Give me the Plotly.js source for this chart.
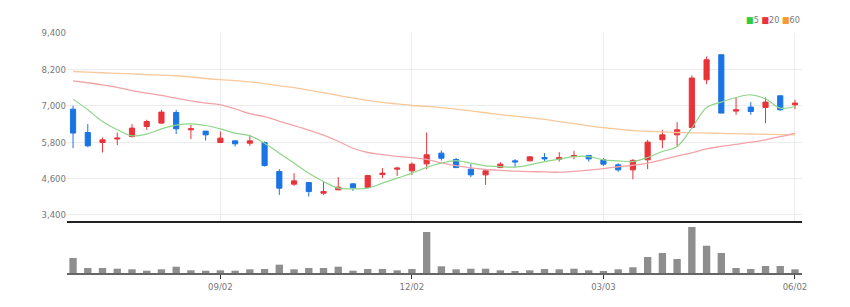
<!DOCTYPE html>
<html><head><meta charset="utf-8">
<script src="https://cdn.plot.ly/plotly-3.0.1.min.js"></script>
<style>html,body{margin:0;padding:0;background:#fff}#chart{width:850px;height:307px}</style>
</head><body><div id="chart"></div>
<script>
const dates = ['2024-06-24','2024-07-01','2024-07-08','2024-07-15','2024-07-22','2024-07-29','2024-08-05','2024-08-12','2024-08-19','2024-08-26',
'2024-09-02','2024-09-09','2024-09-16','2024-09-23','2024-09-30','2024-10-07','2024-10-14','2024-10-21','2024-10-28','2024-11-04',
'2024-11-11','2024-11-18','2024-11-25','2024-12-02','2024-12-09','2024-12-16','2024-12-23','2024-12-30','2025-01-06','2025-01-13',
'2025-01-20','2025-01-27','2025-02-03','2025-02-10','2025-02-17','2025-02-24','2025-03-03','2025-03-10','2025-03-17','2025-03-24',
'2025-03-31','2025-04-07','2025-04-14','2025-04-21','2025-04-28','2025-05-05','2025-05-12','2025-05-19','2025-05-26','2025-06-02'];
const open  = [6890,6119,5789,5904,5987,6317,6429,6779,6208,6165,5789,5845,5768,5789,4832,4416,4470,4119,4228,4426,4305,4733,4911,4855,5086,5439,5228,4911,4723,4964,5185,5185,5294,5240,5327,5360,5218,5053,4888,5218,5878,6043,6284,7858,8683,6825,6957,6945,7330,7033];
const high  = [7000,6396,5954,6119,6396,6538,6868,6868,6373,6165,6152,5845,6043,5822,4911,4779,4470,4525,4647,4449,4723,4944,4988,5131,6119,5528,5282,5076,4888,5142,5241,5339,5439,5472,5515,5383,5274,5109,5240,5878,6208,6462,8000,8627,8683,7287,7122,7274,7340,7198];
const low   = [5604,5637,5459,5703,5954,6208,6406,6066,5901,5855,5789,5657,5680,4997,4063,4360,4007,4063,4228,4196,4305,4614,4690,4723,4911,5195,4944,4647,4393,4944,4977,5175,5185,5160,5240,5160,5020,4823,4578,4911,5604,5657,6263,7716,6759,6703,6703,6429,6845,6890];
const close = [6100,5680,5878,5934,6264,6482,6792,6241,6241,6043,5934,5746,5845,5030,4284,4525,4172,4172,4317,4294,4700,4779,4944,5076,5383,5271,4964,4723,4855,5076,5152,5317,5250,5294,5360,5250,5076,4888,5200,5802,6043,6208,7914,8518,6759,6868,6812,7122,6868,7089];
const ma5  = [7220,6868,6482,6208,6010,6066,6241,6360,6406,6350,6241,6099,6010,5768,5439,5109,4779,4502,4284,4261,4284,4449,4614,4779,4970,5109,5195,5109,5020,4997,4977,5053,5160,5240,5327,5327,5218,5185,5160,5294,5492,5657,6264,6945,7122,7274,7363,7231,6924,6977];
const ma20 = [7825,7760,7690,7610,7500,7420,7340,7250,7160,7090,7030,6900,6740,6640,6490,6350,6200,6030,5830,5600,5460,5390,5330,5290,5230,5120,5030,4950,4900,4870,4845,4830,4820,4810,4840,4880,4930,4990,5040,5110,5220,5340,5450,5580,5660,5730,5800,5880,5980,6100];
const ma60 = [8130,8110,8090,8070,8050,8030,8010,7990,7950,7900,7860,7830,7790,7730,7660,7600,7520,7430,7340,7250,7180,7110,7060,7010,6980,6940,6890,6830,6770,6710,6660,6610,6550,6480,6410,6340,6280,6230,6180,6160,6140,6120,6110,6100,6090,6080,6070,6060,6050,6040];
const volume = [150000,50000,50000,43000,37000,23000,37000,63000,27000,23000,27000,23000,37000,40000,83000,37000,50000,50000,63000,23000,40000,40000,27000,40000,410000,67000,37000,43000,43000,27000,20000,27000,40000,37000,43000,27000,20000,37000,57000,160000,200000,140000,460000,273000,200000,50000,40000,70000,70000,37000];
const priceTicks = [3400,4600,5800,7000,8200,9400];
const dateTicks = ['2024-09-02','2024-12-02','2025-03-03','2025-06-02'];
const dateTickText = ['09/02','12/02','03/03','06/02'];
const maNames = ['5','20','60'];

const RED = '#e8333a', BLUE = '#1b74e4';
const font = {family: '"Liberation Sans Narrow", "DejaVu Sans Condensed", Arial, sans-serif', size: 9.5, color: '#777'};
const xr = ['2024-06-21 03:00','2025-06-05 08:00'];

const traces = [
  {type:'bar', x:dates, y:volume, xaxis:'x', yaxis:'y', marker:{color:'#8e8e8e'}, width:3.5*86400000, hoverinfo:'skip', showlegend:false},
  {type:'scatter', mode:'lines', x:dates, y:ma60, xaxis:'x2', yaxis:'y2', line:{color:'#f8c89a', width:1.3, shape:'spline'}, showlegend:false},
  {type:'scatter', mode:'lines', x:dates, y:ma20, xaxis:'x2', yaxis:'y2', line:{color:'#f3a3a8', width:1.3, shape:'spline'}, showlegend:false},
  {type:'scatter', mode:'lines', x:dates, y:ma5, xaxis:'x2', yaxis:'y2', line:{color:'#8fd68a', width:1.2, shape:'spline'}, showlegend:false},
  {type:'candlestick', x:dates, open:open, high:high, low:low, close:close, xaxis:'x2', yaxis:'y2',
   increasing:{line:{color:RED, width:1}, fillcolor:RED},
   decreasing:{line:{color:BLUE, width:1}, fillcolor:BLUE}, whiskerwidth:0, showlegend:false}
];

const layout = {
  width:850, height:307, margin:{l:67, r:48, t:33, b:34},
  paper_bgcolor:'#fff', plot_bgcolor:'#fff', showlegend:false, font:font, boxgap:0.5,
  xaxis:{type:'date', range:xr, domain:[0,1], anchor:'y', tickvals:dateTicks, ticktext:dateTickText,
    showgrid:false, showline:true, linecolor:'#666', linewidth:1.5, ticks:'outside', ticklen:4, tickcolor:'#333', tickfont:font, zeroline:false},
  yaxis:{domain:[0,0.2], range:[0,480000], showgrid:false, showticklabels:false, zeroline:false, fixedrange:true},
  xaxis2:{type:'date', range:xr, anchor:'y2', matches:'x', tickvals:dateTicks, showticklabels:false,
    showgrid:true, gridcolor:'#ececec', showline:true, linecolor:'#222', linewidth:2, ticks:'', rangeslider:{visible:false}, zeroline:false},
  yaxis2:{domain:[0.2167,1], range:[3202,9400], tickvals:priceTicks, tickformat:',', showgrid:true, gridcolor:'#ececec',
    zeroline:false, tickfont:font, ticks:'', showline:false},
  annotations:[{xref:'paper', yref:'paper', x:1.0, y:1, yshift:13, xanchor:'right', yanchor:'middle', showarrow:false,
    font:{family:font.family, size:9, color:'#777'},
    text:'<span style="color:#2ecc40">■</span>'+maNames[0]+' <span style="color:#e8333a">■</span>'+maNames[1]+' <span style="color:#f39c34">■</span>'+maNames[2]}]
};
Plotly.newPlot('chart', traces, layout, {displayModeBar:false, staticPlot:true});
</script></body></html>
